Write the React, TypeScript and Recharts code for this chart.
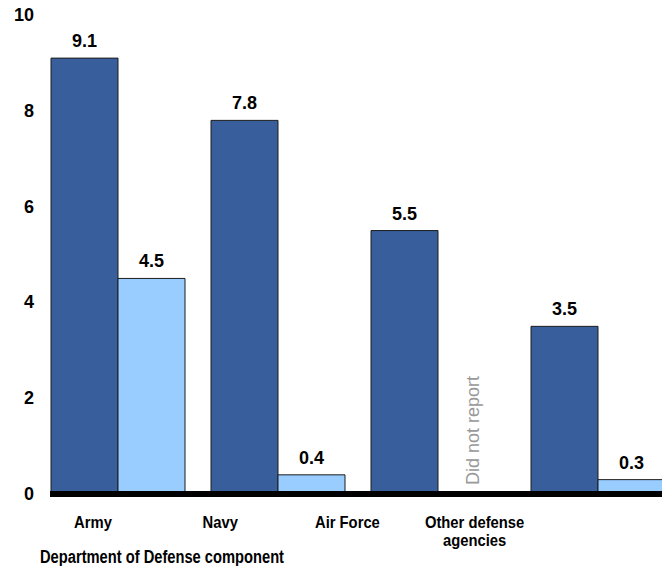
import { BarChart, Bar, XAxis, YAxis, LabelList, Label, Text } from "recharts";

const categories = ["Army", "Navy", "Air Force", "Other defense agencies"];
const firstValues = [9.1, 7.8, 5.5, 3.5];
const secondValues: (number | null)[] = [4.5, 0.4, null, 0.3];
const notes = ["", "", "Did not report", ""];
const yTicks = [0, 2, 4, 6, 8, 10];

const data = categories.map((name, i) => ({
  name,
  first: firstValues[i],
  second: secondValues[i],
  note: notes[i],
}));

const FONT = '"Liberation Sans", Arial, Helvetica, sans-serif';

function YTick({ y, payload }: any) {
  return (
    <text
      x={34}
      y={y}
      dy={6}
      textAnchor="end"
      fontFamily={FONT}
      fontWeight="bold"
      fontSize={18}
      fill="#000"
    >
      {payload.value}
    </text>
  );
}

// category labels sit a bit left of their bar groups in the original,
// and the lettering is slightly condensed
function XTick({ x, y, payload }: any) {
  const cx = 93 + (x - 130) * 0.795;
  return (
    <g transform={`translate(${cx}, ${y + 22}) scale(0.87, 1)`}>
      <Text
        x={0}
        y={0}
        width={130}
        textAnchor="middle"
        verticalAnchor="start"
        lineHeight={18}
        fontFamily={FONT}
        fontWeight="bold"
        fontSize={17}
        fill="#000"
      >
        {payload.value}
      </Text>
    </g>
  );
}

// note drawn in the empty slot right of the first bar
function NoteLabel(props: any) {
  const { viewBox, value } = props;
  if (!value || !viewBox) return null;
  const x = viewBox.x + viewBox.width * 1.5 + 7;
  const y = viewBox.y + viewBox.height - 9;
  return (
    <text
      x={x}
      y={y}
      transform={`rotate(-90, ${x}, ${y})`}
      fontFamily={FONT}
      fontSize={18}
      fill="#999"
    >
      {value}
    </text>
  );
}

const valueStyle = {
  fontFamily: FONT,
  fontWeight: "bold",
  fontSize: 18,
  fill: "#000",
};

export default function App() {
  return (
    <div
      style={{
        position: "absolute",
        left: 0,
        top: 0,
        width: 662,
        height: 566,
        overflow: "hidden",
        background: "#fff",
      }}
    >
      <BarChart
        width={690}
        height={566}
        data={data}
        margin={{ top: 15, right: 0, bottom: 0, left: 0 }}
        barGap={0}
        barCategoryGap={0}
      >
        <YAxis
          width={50}
          domain={[0, 10]}
          ticks={yTicks}
          axisLine={false}
          tickLine={false}
          tick={<YTick />}
        />
        <Bar
          dataKey="first"
          barSize={67}
          fill="#385e9b"
          stroke="#1c1c1c"
          strokeWidth={1}
          isAnimationActive={false}
        >
          <LabelList dataKey="first" position="top" offset={11} style={valueStyle} />
          <LabelList dataKey="note" content={<NoteLabel />} />
        </Bar>
        <Bar
          dataKey="second"
          barSize={67}
          fill="#99ccff"
          stroke="#1c1c1c"
          strokeWidth={1}
          isAnimationActive={false}
        >
          <LabelList dataKey="second" position="top" offset={11} style={valueStyle} />
        </Bar>
        <Bar dataKey="gap" barSize={25} fill="none" isAnimationActive={false} />
        <XAxis
          dataKey="name"
          height={72}
          axisLine={{ stroke: "#000", strokeWidth: 6 }}
          tickLine={false}
          tickSize={0}
          tickMargin={0}
          interval={0}
          tick={<XTick />}
        >
          <Label
            content={({ viewBox }: any) => (
              <text
                x={viewBox.x - 10}
                y={viewBox.y + 69}
                fontFamily={FONT}
                fontWeight="bold"
                fontSize={18}
                textLength={244}
                lengthAdjust="spacingAndGlyphs"
                fill="#000"
              >
                Department of Defense component
              </text>
            )}
          />
        </XAxis>
      </BarChart>
    </div>
  );
}
